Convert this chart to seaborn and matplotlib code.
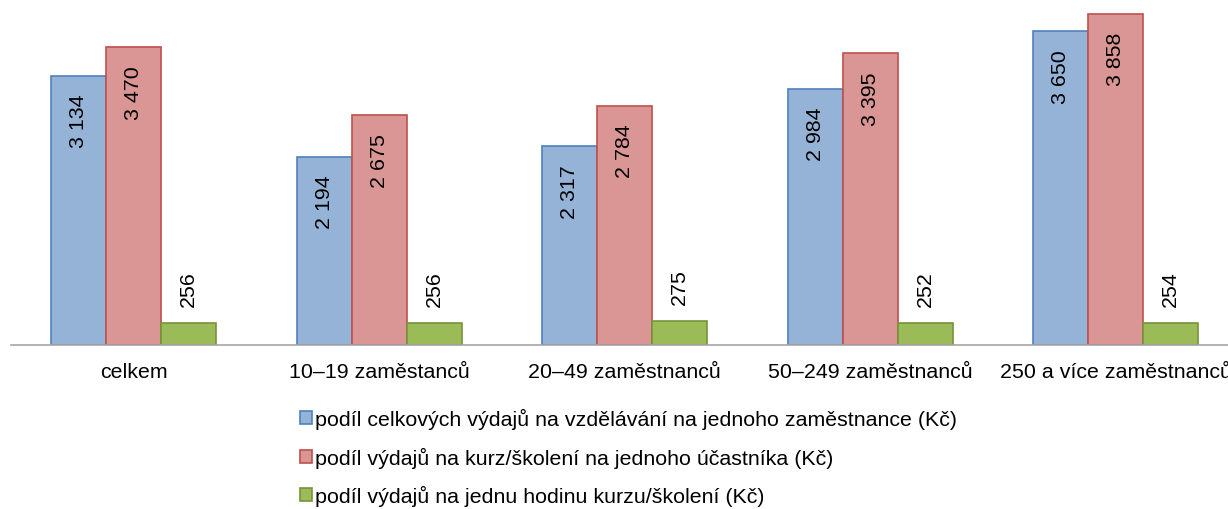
import pandas as pd
import matplotlib
matplotlib.use("Agg")
import matplotlib.pyplot as plt
import seaborn as sns
from matplotlib.patches import Patch

categories = ["celkem", "10–19 zaměstanců", "20–49 zaměstnanců",
              "50–249 zaměstnanců", "250 a více zaměstnanců"]
series = [
    "podíl celkových výdajů na vzdělávání na jednoho zaměstnance (Kč)",
    "podíl výdajů na kurz/školení na jednoho účastníka (Kč)",
    "podíl výdajů na jednu hodinu kurzu/školení (Kč)",
]
per_employee = [3134, 2194, 2317, 2984, 3650]
per_participant = [3470, 2675, 2784, 3395, 3858]
per_hour = [256, 256, 275, 252, 254]

fills = ["#95B3D7", "#D99694", "#9BBB59"]
edges = ["#4F81BD", "#C0504D", "#77933C"]

df = pd.DataFrame({
    "kategorie": categories * 3,
    "ukazatel": [series[0]] * 5 + [series[1]] * 5 + [series[2]] * 5,
    "hodnota": per_employee + per_participant + per_hour,
})

sns.set_style("white")
plt.rcParams["font.family"] = ["Liberation Sans", "DejaVu Sans"]
plt.rcParams["text.color"] = "black"
plt.rcParams["xtick.color"] = "black"

fs = 15.4

fig = plt.figure(figsize=(12.28, 5.10), dpi=100)
ax = fig.add_axes([11 / 1228, 164 / 510, 1227.5 / 1228, 346 / 510])

sns.barplot(data=df, x="kategorie", y="hodnota", hue="ukazatel",
            hue_order=series, order=categories, palette=fills, saturation=1,
            width=0.672, gap=0, legend=False, ax=ax, errorbar=None)

for i, cont in enumerate(ax.containers):
    for bar in cont:
        bar.set_edgecolor(edges[i])
        bar.set_linewidth(1.2)
        h = bar.get_height()
        txt = f"{int(round(h)):,}".replace(",", " ")
        xc = bar.get_x() + bar.get_width() / 2
        if i < 2:
            ax.annotate(txt, (xc, h), xytext=(0, -18), textcoords="offset pixels",
                        rotation=90, ha="center", va="top", fontsize=fs)
        else:
            ax.annotate(txt, (xc, h), xytext=(0, 17), textcoords="offset pixels",
                        rotation=90, ha="center", va="bottom", fontsize=fs)

ax.set_xlim(-0.5, 4.5)
ax.set_ylim(0, 4028)
ax.set_xlabel("")
ax.set_ylabel("")
ax.set_yticks([])
for s in ["top", "right", "left"]:
    ax.spines[s].set_visible(False)
ax.spines["bottom"].set_color("#A6A6A6")
ax.spines["bottom"].set_linewidth(1.2)

ax.set_xticks(range(len(categories)))
ax.set_xticklabels(categories, fontsize=fs)
ax.set_xticks([x - 0.5 for x in range(len(categories) + 1)], minor=True)
ax.tick_params(axis="x", which="major", length=0, pad=12)
ax.tick_params(axis="x", which="minor", length=5, width=1.2,
               color="#A6A6A6", direction="out")

handles = [Patch(facecolor=fills[i], edgecolor=edges[i], linewidth=1.2)
           for i in range(3)]
fig.legend(handles, series, loc="upper left",
           bbox_to_anchor=(300 / 1228, 1 - 409 / 510), frameon=False,
           fontsize=fs, handlelength=0.55, handleheight=0.55,
           handletextpad=0.15, labelspacing=0.82, borderpad=0, borderaxespad=0)

fig.savefig("out.png", dpi=100)
